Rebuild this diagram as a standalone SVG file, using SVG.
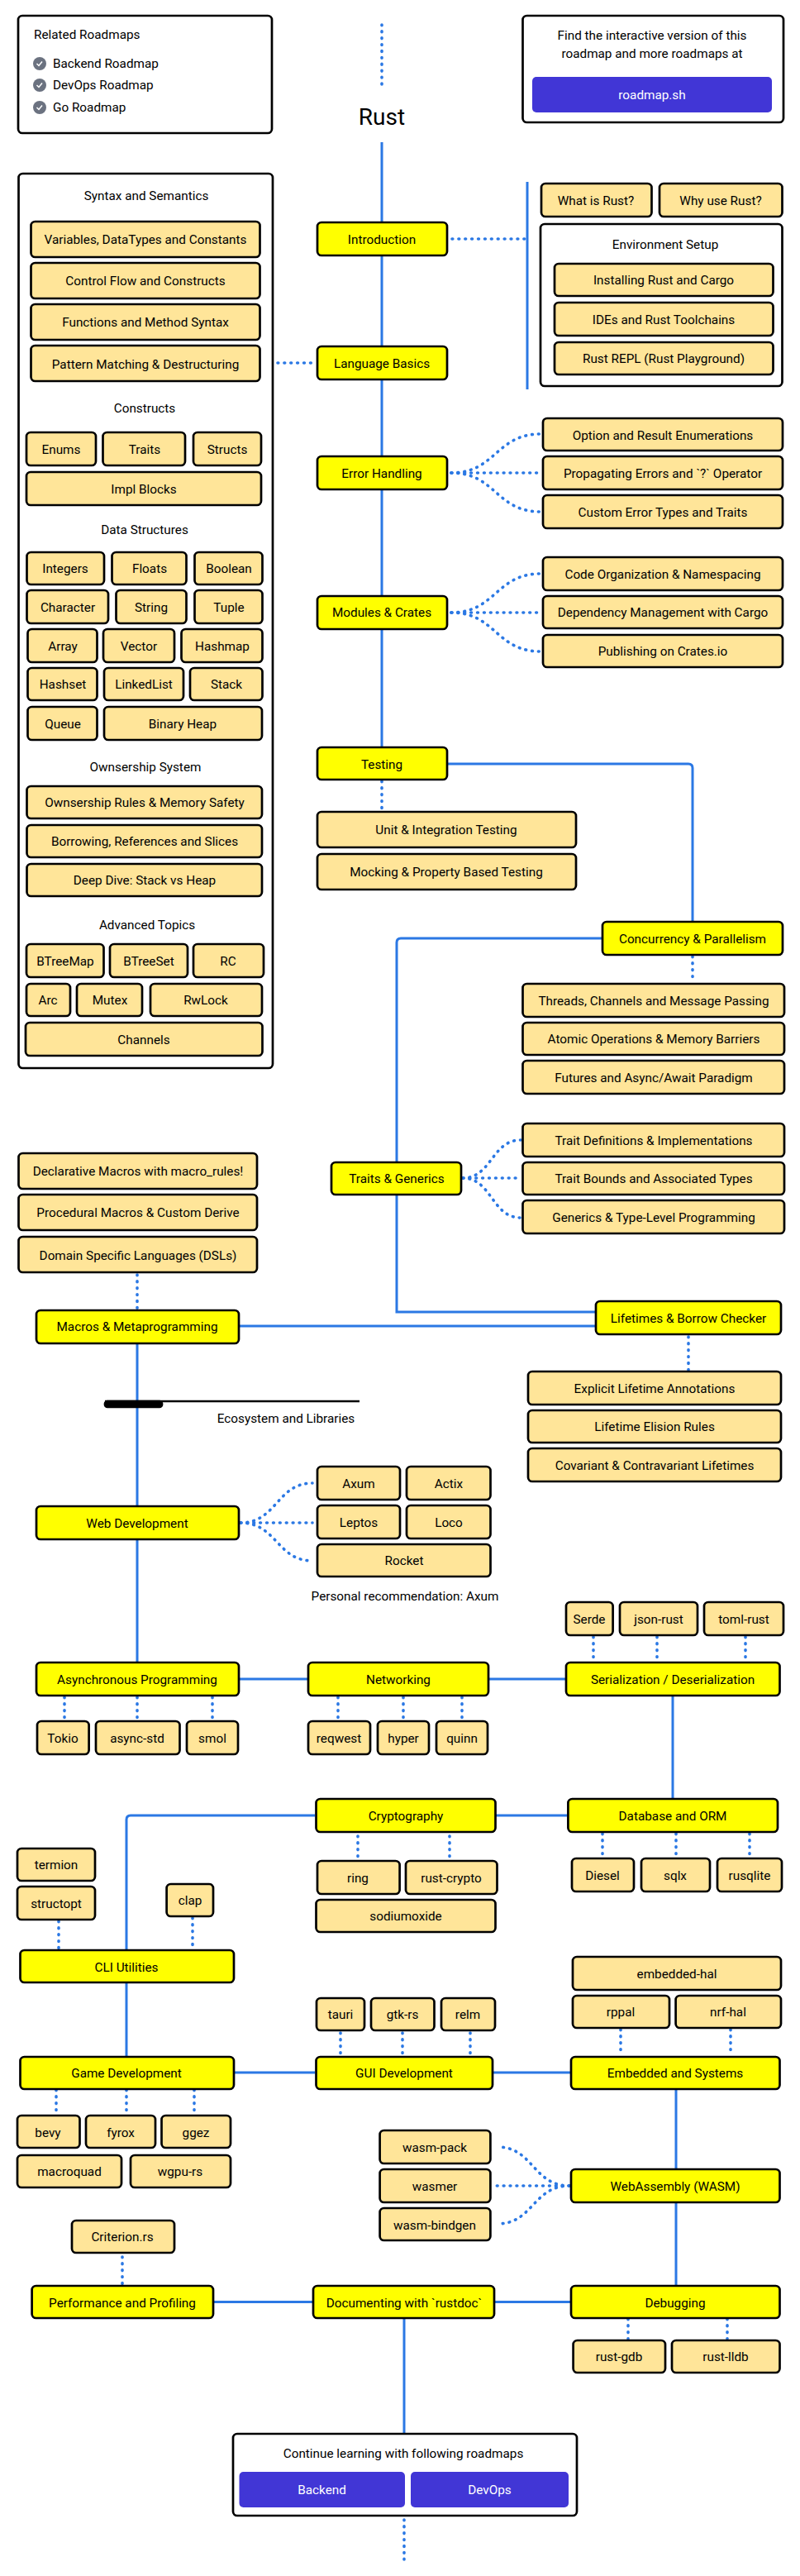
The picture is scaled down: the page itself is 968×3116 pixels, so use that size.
<svg xmlns="http://www.w3.org/2000/svg" width="968" height="3116" viewBox="0 0 968 3116">
<style>
text{font-family:"Roboto","Liberation Sans",sans-serif;font-size:15.300px;fill:#000;text-anchor:middle;dominant-baseline:central}
.l{text-anchor:start}
.w{fill:#fff}
.h{font-size:28px}
rect{stroke:#000;stroke-width:2.7}
.s{fill:#ffe599}
.m{fill:#ff0}
.b{fill:#fff}
.p{fill:#4136d6;stroke:none}
.c path{fill:none;stroke:#2b78e4;stroke-width:3}
.c .d{stroke-width:3.6;stroke-dasharray:.8 7.1;stroke-linecap:round}
</style>
<g id="connectors" class="c">
<path class="d" d="M462 30V102"/>
<path d="M462 172V903"/>
<path class="d" d="M547 289H636"/>
<path d="M638 220V471"/>
<path class="d" d="M336 439H380"/>
<path class="d" d="M546 572C600 572 600 525 654 525"/>
<path class="d" d="M546 572H654"/>
<path class="d" d="M546 572C600 572 600 619 654 619"/>
<path class="d" d="M546 741C600 741 600 694 654 694"/>
<path class="d" d="M546 741H654"/>
<path class="d" d="M546 741C600 741 600 788 654 788"/>
<path d="M542 924H833Q838 924 838 929V1114"/>
<path class="d" d="M462 945V981"/>
<path d="M728 1135H485Q480 1135 480 1140V1587H720"/>
<path class="d" d="M838 1157V1188"/>
<path class="d" d="M560 1425C595 1425 595 1379 630 1379"/>
<path class="d" d="M560 1425H630"/>
<path class="d" d="M560 1425C595 1425 595 1473 630 1473"/>
<path class="d" d="M166 1542V1584"/>
<path d="M290 1604H720"/>
<path d="M166 1626V2010"/>
<path class="d" d="M833 1617V1658"/>
<path class="d" d="M291 1842C335 1842 335 1794 378 1794"/>
<path class="d" d="M291 1842H378"/>
<path class="d" d="M291 1842C335 1842 335 1888 378 1888"/>
<path d="M290 2031H372M592 2031H684"/>
<path class="d" d="M718 1980V2010M795 1980V2010M902 1980V2010"/>
<path class="d" d="M78 2053V2080M166 2053V2080M257 2053V2080M409 2053V2080M488 2053V2080M559 2053V2080"/>
<path d="M814 2052V2175"/>
<path d="M686 2196H600M381 2196H158Q153 2196 153 2201V2358"/>
<path class="d" d="M433 2221V2250M544 2221V2250M729 2218V2247M818 2218V2247M907 2218V2247"/>
<path class="d" d="M71 2324V2358M233 2320V2358"/>
<path d="M153 2399V2487"/>
<path d="M284 2507H381M597 2507H690"/>
<path class="d" d="M412 2459V2487M487 2459V2487M569 2459V2487M751 2455V2486M884 2455V2486"/>
<path class="d" d="M68 2528V2558M153 2528V2558M235 2528V2558"/>
<path d="M818 2528V2764"/>
<path class="d" d="M689 2644C645 2644 645 2597 602 2597"/>
<path class="d" d="M689 2644H596"/>
<path class="d" d="M689 2644C645 2644 645 2690 602 2690"/>
<path class="d" d="M148 2730V2764"/>
<path d="M259 2784.500H378M599 2784.500H690"/>
<path class="d" d="M760 2805V2829M880 2805V2829"/>
<path d="M489 2805V2943"/>
<path class="d" d="M489 3048V3096"/>
</g>
<g id="related"><rect class="b" x="22" y="19" width="307" height="142" rx="5"/><text class="l" x="41" y="42">Related Roadmaps</text>
<circle cx="48" cy="77" r="8" fill="#6b7280"/><path d="M44.500 77l2.500 2.500 4-5" fill="none" stroke="#fff" stroke-width="1.500"/><text class="l" x="64" y="77">Backend Roadmap</text>
<circle cx="48" cy="103" r="8" fill="#6b7280"/><path d="M44.500 103l2.500 2.500 4-5" fill="none" stroke="#fff" stroke-width="1.500"/><text class="l" x="64" y="103">DevOps Roadmap</text>
<circle cx="48" cy="130" r="8" fill="#6b7280"/><path d="M44.500 130l2.500 2.500 4-5" fill="none" stroke="#fff" stroke-width="1.500"/><text class="l" x="64" y="130">Go Roadmap</text></g>
<g id="interactive"><rect class="b" x="632.500" y="19" width="315.500" height="129" rx="5"/><text x="789" y="43">Find the interactive version of this</text><text x="789" y="65">roadmap and more roadmaps at</text><rect class="p" x="644" y="93" width="290" height="43" rx="5"/><text class="w" x="789" y="115">roadmap.sh</text></g>
<g id="title"><text class="h" x="462" y="141">Rust</text></g>
<g id="syntax-panel"><rect class="b" x="22.500" y="210" width="307.500" height="1082" rx="5"/><text x="177" y="237">Syntax and Semantics</text><text x="175" y="494">Constructs</text><text x="175" y="641">Data Structures</text><text x="176" y="928">Ownsership System</text><text x="178" y="1119">Advanced Topics</text></g>
<g id="n-variables"><rect class="s" x="37.500" y="268" width="277" height="43" rx="5"/><text x="176" y="290">Variables, DataTypes and Constants</text></g>
<g id="n-control"><rect class="s" x="37.500" y="318" width="277" height="43" rx="5"/><text x="176" y="340">Control Flow and Constructs</text></g>
<g id="n-functions"><rect class="s" x="37.500" y="368" width="277" height="43" rx="5"/><text x="176" y="390">Functions and Method Syntax</text></g>
<g id="n-pattern"><rect class="s" x="37.500" y="418" width="277" height="43" rx="5"/><text x="176" y="441">Pattern Matching &amp; Destructuring</text></g>
<g id="n-enums"><rect class="s" x="32" y="523" width="84" height="40" rx="5"/><text x="74" y="544">Enums</text></g>
<g id="n-traits"><rect class="s" x="124.500" y="523" width="99.500" height="40" rx="5"/><text x="175" y="544">Traits</text></g>
<g id="n-structs"><rect class="s" x="234" y="523" width="82" height="40" rx="5"/><text x="275" y="544">Structs</text></g>
<g id="n-impl"><rect class="s" x="32" y="571" width="284" height="40" rx="5"/><text x="174" y="592">Impl Blocks</text></g>
<g id="n-integers"><rect class="s" x="32.500" y="668" width="93.500" height="39" rx="5"/><text x="79" y="688">Integers</text></g>
<g id="n-floats"><rect class="s" x="135.500" y="668" width="90" height="39" rx="5"/><text x="181" y="688">Floats</text></g>
<g id="n-boolean"><rect class="s" x="235.500" y="668" width="82" height="39" rx="5"/><text x="277" y="688">Boolean</text></g>
<g id="n-character"><rect class="s" x="32.500" y="714" width="98.500" height="40" rx="5"/><text x="82" y="735">Character</text></g>
<g id="n-string"><rect class="s" x="140.500" y="714" width="85" height="40" rx="5"/><text x="183" y="735">String</text></g>
<g id="n-tuple"><rect class="s" x="235.500" y="714" width="82" height="40" rx="5"/><text x="277" y="735">Tuple</text></g>
<g id="n-array"><rect class="s" x="33.500" y="761" width="84" height="40" rx="5"/><text x="76" y="782">Array</text></g>
<g id="n-vector"><rect class="s" x="125" y="761" width="86" height="40" rx="5"/><text x="168" y="782">Vector</text></g>
<g id="n-hashmap"><rect class="s" x="219.500" y="761" width="98" height="40" rx="5"/><text x="269" y="782">Hashmap</text></g>
<g id="n-hashset"><rect class="s" x="33.500" y="808" width="84" height="39" rx="5"/><text x="76" y="828">Hashset</text></g>
<g id="n-linkedlist"><rect class="s" x="126" y="808" width="96" height="39" rx="5"/><text x="174" y="828">LinkedList</text></g>
<g id="n-stack"><rect class="s" x="230" y="808" width="87.500" height="39" rx="5"/><text x="274" y="828">Stack</text></g>
<g id="n-queue"><rect class="s" x="33.500" y="855" width="84" height="40" rx="5"/><text x="76" y="876">Queue</text></g>
<g id="n-binaryheap"><rect class="s" x="126" y="855" width="191" height="40" rx="5"/><text x="221" y="876">Binary Heap</text></g>
<g id="n-ownrules"><rect class="s" x="32.500" y="951" width="284.500" height="39" rx="5"/><text x="175" y="971">Ownsership Rules &amp; Memory Safety</text></g>
<g id="n-borrowing"><rect class="s" x="32.500" y="998" width="284.500" height="39" rx="5"/><text x="175" y="1018">Borrowing, References and Slices</text></g>
<g id="n-deepdive"><rect class="s" x="32.500" y="1045" width="284.500" height="39" rx="5"/><text x="175" y="1065">Deep Dive: Stack vs Heap</text></g>
<g id="n-btreemap"><rect class="s" x="32" y="1142" width="93.500" height="40" rx="5"/><text x="79" y="1163">BTreeMap</text></g>
<g id="n-btreeset"><rect class="s" x="133" y="1142" width="94" height="40" rx="5"/><text x="180" y="1163">BTreeSet</text></g>
<g id="n-rc"><rect class="s" x="234" y="1142" width="85" height="40" rx="5"/><text x="276" y="1163">RC</text></g>
<g id="n-arc"><rect class="s" x="32" y="1190" width="53" height="39" rx="5"/><text x="58" y="1210">Arc</text></g>
<g id="n-mutex"><rect class="s" x="93" y="1190" width="79" height="39" rx="5"/><text x="133" y="1210">Mutex</text></g>
<g id="n-rwlock"><rect class="s" x="182" y="1190" width="135" height="39" rx="5"/><text x="249" y="1210">RwLock</text></g>
<g id="n-channels"><rect class="s" x="31" y="1237" width="286.500" height="40" rx="5"/><text x="174" y="1258">Channels</text></g>
<g id="n-introduction"><rect class="m" x="384" y="269" width="157" height="40" rx="5"/><text x="462" y="290">Introduction</text></g>
<g id="n-whatis"><rect class="s" x="655" y="222" width="133.500" height="40" rx="5"/><text x="721" y="243">What is Rust?</text></g>
<g id="n-whyuse"><rect class="s" x="798" y="222" width="148.500" height="40" rx="5"/><text x="872" y="243">Why use Rust?</text></g>
<g id="n-envsetup"><rect class="b" x="654" y="271" width="292.500" height="196" rx="5"/><text x="805" y="296">Environment Setup</text></g>
<g id="n-installing"><rect class="s" x="671" y="319" width="264.500" height="39" rx="5"/><text x="803" y="339">Installing Rust and Cargo</text></g>
<g id="n-ides"><rect class="s" x="671" y="366" width="264.500" height="40" rx="5"/><text x="803" y="387">IDEs and Rust Toolchains</text></g>
<g id="n-repl"><rect class="s" x="671" y="414" width="264.500" height="39" rx="5"/><text x="803" y="434">Rust REPL (Rust Playground)</text></g>
<g id="n-language"><rect class="m" x="384" y="419" width="157" height="40" rx="5"/><text x="462" y="440">Language Basics</text></g>
<g id="n-error"><rect class="m" x="384" y="552" width="157" height="40" rx="5"/><text x="462" y="573">Error Handling</text></g>
<g id="n-option"><rect class="s" x="657" y="506" width="290" height="39" rx="5"/><text x="802" y="527">Option and Result Enumerations</text></g>
<g id="n-propagating"><rect class="s" x="657" y="552" width="290" height="40" rx="5"/><text x="802" y="573">Propagating Errors and `?` Operator</text></g>
<g id="n-custom"><rect class="s" x="657" y="599" width="290" height="40" rx="5"/><text x="802" y="620">Custom Error Types and Traits</text></g>
<g id="n-modules"><rect class="m" x="384" y="721" width="157" height="40" rx="5"/><text x="462" y="741">Modules &amp; Crates</text></g>
<g id="n-codeorg"><rect class="s" x="657" y="674" width="290" height="40" rx="5"/><text x="802" y="695">Code Organization &amp; Namespacing</text></g>
<g id="n-dependency"><rect class="s" x="657" y="721" width="290" height="39" rx="5"/><text x="802" y="741">Dependency Management with Cargo</text></g>
<g id="n-publishing"><rect class="s" x="657" y="768" width="290" height="39" rx="5"/><text x="802" y="788">Publishing on Crates.io</text></g>
<g id="n-testing"><rect class="m" x="384" y="904" width="157" height="39" rx="5"/><text x="462" y="925">Testing</text></g>
<g id="n-unit"><rect class="s" x="384" y="982" width="313" height="43" rx="5"/><text x="540" y="1004">Unit &amp; Integration Testing</text></g>
<g id="n-mocking"><rect class="s" x="384" y="1033" width="313" height="43" rx="5"/><text x="540" y="1055">Mocking &amp; Property Based Testing</text></g>
<g id="n-concurrency"><rect class="m" x="729" y="1115" width="218" height="40" rx="5"/><text x="838" y="1136">Concurrency &amp; Parallelism</text></g>
<g id="n-threads"><rect class="s" x="632.500" y="1190" width="316.500" height="40" rx="5"/><text x="791" y="1211">Threads, Channels and Message Passing</text></g>
<g id="n-atomic"><rect class="s" x="632.500" y="1237" width="316.500" height="39" rx="5"/><text x="791" y="1257">Atomic Operations &amp; Memory Barriers</text></g>
<g id="n-futures"><rect class="s" x="632.500" y="1283" width="316.500" height="40" rx="5"/><text x="791" y="1304">Futures and Async/Await Paradigm</text></g>
<g id="n-traitdef"><rect class="s" x="632.500" y="1359" width="316.500" height="40" rx="5"/><text x="791" y="1380">Trait Definitions &amp; Implementations</text></g>
<g id="n-traitbounds"><rect class="s" x="632.500" y="1406" width="316.500" height="39" rx="5"/><text x="791" y="1426">Trait Bounds and Associated Types</text></g>
<g id="n-generics"><rect class="s" x="632.500" y="1452" width="316.500" height="40" rx="5"/><text x="791" y="1473">Generics &amp; Type-Level Programming</text></g>
<g id="n-traitsgen"><rect class="m" x="401" y="1406" width="157" height="39" rx="5"/><text x="480" y="1426">Traits &amp; Generics</text></g>
<g id="n-declarative"><rect class="s" x="22.500" y="1395" width="288.500" height="43" rx="5"/><text x="167" y="1417">Declarative Macros with macro_rules!</text></g>
<g id="n-procedural"><rect class="s" x="22.500" y="1445" width="288.500" height="43" rx="5"/><text x="167" y="1467">Procedural Macros &amp; Custom Derive</text></g>
<g id="n-domain"><rect class="s" x="22.500" y="1496" width="288.500" height="43" rx="5"/><text x="167" y="1519">Domain Specific Languages (DSLs)</text></g>
<g id="n-macros"><rect class="m" x="44" y="1585" width="245" height="40" rx="5"/><text x="166" y="1605">Macros &amp; Metaprogramming</text></g>
<g id="n-lifetimes"><rect class="m" x="721" y="1574" width="224" height="40" rx="5"/><text x="833" y="1595">Lifetimes &amp; Borrow Checker</text></g>
<g id="n-explicit"><rect class="s" x="639" y="1659" width="306" height="40" rx="5"/><text x="792" y="1680">Explicit Lifetime Annotations</text></g>
<g id="n-elision"><rect class="s" x="639" y="1706" width="306" height="39" rx="5"/><text x="792" y="1726">Lifetime Elision Rules</text></g>
<g id="n-covariant"><rect class="s" x="639" y="1752" width="306" height="40" rx="5"/><text x="792" y="1773">Covariant &amp; Contravariant Lifetimes</text></g>
<g id="ecosystem"><path d="M127 1695H435" stroke="#000" stroke-width="2.700" fill="none"/><rect x="127" y="1695" width="69" height="7" rx="3" fill="#000" stroke="none"/><text x="346" y="1716">Ecosystem and Libraries</text></g>
<g id="n-web"><rect class="m" x="44" y="1822" width="245" height="40" rx="5"/><text x="166" y="1843">Web Development</text></g>
<g id="n-axum"><rect class="s" x="384" y="1774" width="100" height="40" rx="5"/><text x="434" y="1795">Axum</text></g>
<g id="n-actix"><rect class="s" x="492" y="1774" width="101.500" height="40" rx="5"/><text x="543" y="1795">Actix</text></g>
<g id="n-leptos"><rect class="s" x="384" y="1821" width="100" height="40" rx="5"/><text x="434" y="1842">Leptos</text></g>
<g id="n-loco"><rect class="s" x="492" y="1821" width="101.500" height="40" rx="5"/><text x="543" y="1842">Loco</text></g>
<g id="n-rocket"><rect class="s" x="384" y="1868" width="209.500" height="39" rx="5"/><text x="489" y="1888">Rocket</text></g>
<g id="note-axum"><text x="490" y="1931">Personal recommendation: Axum</text></g>
<g id="n-async"><rect class="m" x="44" y="2011" width="245" height="40" rx="5"/><text x="166" y="2032">Asynchronous Programming</text></g>
<g id="n-networking"><rect class="m" x="373" y="2011" width="218" height="40" rx="5"/><text x="482" y="2032">Networking</text></g>
<g id="n-serialization"><rect class="m" x="685" y="2011" width="258.500" height="40" rx="5"/><text x="814" y="2032">Serialization / Deserialization</text></g>
<g id="n-serde"><rect class="s" x="685" y="1938" width="56.600" height="40" rx="5"/><text x="713" y="1959">Serde</text></g>
<g id="n-json"><rect class="s" x="750" y="1938" width="94" height="40" rx="5"/><text x="797" y="1959">json-rust</text></g>
<g id="n-toml"><rect class="s" x="852" y="1938" width="96" height="40" rx="5"/><text x="900" y="1959">toml-rust</text></g>
<g id="n-tokio"><rect class="s" x="45" y="2082" width="62.600" height="40" rx="5"/><text x="76" y="2103">Tokio</text></g>
<g id="n-asyncstd"><rect class="s" x="116" y="2082" width="101.500" height="40" rx="5"/><text x="166" y="2103">async-std</text></g>
<g id="n-smol"><rect class="s" x="226" y="2082" width="62" height="40" rx="5"/><text x="257" y="2103">smol</text></g>
<g id="n-reqwest"><rect class="s" x="373" y="2082" width="75" height="40" rx="5"/><text x="410" y="2103">reqwest</text></g>
<g id="n-hyper"><rect class="s" x="457" y="2082" width="62" height="40" rx="5"/><text x="488" y="2103">hyper</text></g>
<g id="n-quinn"><rect class="s" x="528" y="2082" width="62" height="40" rx="5"/><text x="559" y="2103">quinn</text></g>
<g id="n-crypto"><rect class="m" x="382.500" y="2176" width="217" height="40" rx="5"/><text x="491" y="2197">Cryptography</text></g>
<g id="n-database"><rect class="m" x="687.400" y="2176" width="253.600" height="40" rx="5"/><text x="814" y="2197">Database and ORM</text></g>
<g id="n-ring"><rect class="s" x="384" y="2251" width="99.600" height="40" rx="5"/><text x="433" y="2272">ring</text></g>
<g id="n-rustcrypto"><rect class="s" x="491" y="2251" width="110.500" height="40" rx="5"/><text x="546" y="2272">rust-crypto</text></g>
<g id="n-sodium"><rect class="s" x="382.500" y="2298" width="217" height="39" rx="5"/><text x="491" y="2318">sodiumoxide</text></g>
<g id="n-diesel"><rect class="s" x="692" y="2248" width="75" height="40" rx="5"/><text x="729" y="2269">Diesel</text></g>
<g id="n-sqlx"><rect class="s" x="776" y="2248" width="83" height="40" rx="5"/><text x="817" y="2269">sqlx</text></g>
<g id="n-rusqlite"><rect class="s" x="868" y="2248" width="78" height="40" rx="5"/><text x="907" y="2269">rusqlite</text></g>
<g id="n-termion"><rect class="s" x="21" y="2236" width="94" height="39" rx="5"/><text x="68" y="2256">termion</text></g>
<g id="n-structopt"><rect class="s" x="21" y="2282" width="94" height="40" rx="5"/><text x="68" y="2303">structopt</text></g>
<g id="n-clap"><rect class="s" x="201.600" y="2279" width="56.400" height="39" rx="5"/><text x="230" y="2299">clap</text></g>
<g id="n-cli"><rect class="m" x="24.500" y="2359" width="258.500" height="39" rx="5"/><text x="153" y="2380">CLI Utilities</text></g>
<g id="n-game"><rect class="m" x="24.500" y="2488" width="258.500" height="39" rx="5"/><text x="153" y="2508">Game Development</text></g>
<g id="n-gui"><rect class="m" x="382.500" y="2488" width="213.500" height="39" rx="5"/><text x="489" y="2508">GUI Development</text></g>
<g id="n-embedded"><rect class="m" x="691" y="2488" width="252.500" height="39" rx="5"/><text x="817" y="2508">Embedded and Systems</text></g>
<g id="n-tauri"><rect class="s" x="383" y="2417" width="58" height="39" rx="5"/><text x="412" y="2437">tauri</text></g>
<g id="n-gtk"><rect class="s" x="449" y="2417" width="76.500" height="39" rx="5"/><text x="487" y="2437">gtk-rs</text></g>
<g id="n-relm"><rect class="s" x="534" y="2417" width="65" height="39" rx="5"/><text x="566" y="2437">relm</text></g>
<g id="n-embhal"><rect class="s" x="693" y="2367" width="252" height="40" rx="5"/><text x="819" y="2388">embedded-hal</text></g>
<g id="n-rppal"><rect class="s" x="693" y="2414" width="117" height="39" rx="5"/><text x="751" y="2434">rppal</text></g>
<g id="n-nrf"><rect class="s" x="817.600" y="2414" width="127.400" height="39" rx="5"/><text x="881" y="2434">nrf-hal</text></g>
<g id="n-bevy"><rect class="s" x="21" y="2559" width="75.500" height="39" rx="5"/><text x="58" y="2580">bevy</text></g>
<g id="n-fyrox"><rect class="s" x="104" y="2559" width="84" height="39" rx="5"/><text x="146" y="2580">fyrox</text></g>
<g id="n-ggez"><rect class="s" x="195.500" y="2559" width="83.500" height="39" rx="5"/><text x="237" y="2580">ggez</text></g>
<g id="n-macroquad"><rect class="s" x="21" y="2607" width="126" height="39" rx="5"/><text x="84" y="2627">macroquad</text></g>
<g id="n-wgpu"><rect class="s" x="158" y="2607" width="121" height="39" rx="5"/><text x="218" y="2627">wgpu-rs</text></g>
<g id="n-criterion"><rect class="s" x="87" y="2686" width="124" height="39" rx="5"/><text x="148" y="2706">Criterion.rs</text></g>
<g id="n-perf"><rect class="m" x="38.600" y="2765" width="219.400" height="39" rx="5"/><text x="148" y="2786">Performance and Profiling</text></g>
<g id="n-doc"><rect class="m" x="379" y="2765" width="219" height="39" rx="5"/><text x="489" y="2786">Documenting with `rustdoc`</text></g>
<g id="n-debugging"><rect class="m" x="691" y="2765" width="252.500" height="39" rx="5"/><text x="817" y="2786">Debugging</text></g>
<g id="n-wasmpack"><rect class="s" x="459.600" y="2577" width="133.800" height="40" rx="5"/><text x="526" y="2598">wasm-pack</text></g>
<g id="n-wasmer"><rect class="s" x="459.600" y="2624" width="133.800" height="40" rx="5"/><text x="526" y="2645">wasmer</text></g>
<g id="n-bindgen"><rect class="s" x="459.600" y="2671" width="133.800" height="39" rx="5"/><text x="526" y="2692">wasm-bindgen</text></g>
<g id="n-wasm"><rect class="m" x="691" y="2624" width="252.500" height="40" rx="5"/><text x="817" y="2645">WebAssembly (WASM)</text></g>
<g id="n-gdb"><rect class="s" x="693.600" y="2831" width="111.400" height="39" rx="5"/><text x="749" y="2851">rust-gdb</text></g>
<g id="n-lldb"><rect class="s" x="813" y="2831" width="130.500" height="39" rx="5"/><text x="878" y="2851">rust-lldb</text></g>
<g id="continue"><rect class="b" x="282" y="2944" width="416" height="99" rx="5"/><text x="488" y="2968">Continue learning with following roadmaps</text><rect class="p" x="289.500" y="2990" width="200.500" height="43" rx="5"/><text class="w" x="389.500" y="3012">Backend</text><rect class="p" x="497" y="2990" width="191" height="43" rx="5"/><text class="w" x="592.500" y="3012">DevOps</text></g>
</svg>
